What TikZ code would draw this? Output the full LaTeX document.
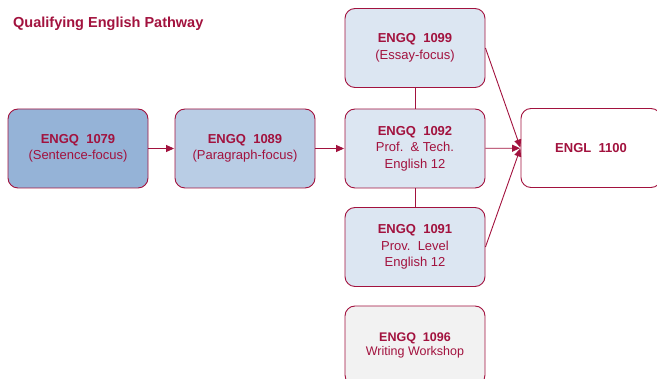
\documentclass[tikz,border=0pt]{standalone}
\usepackage{fontspec}
\setmainfont{Liberation Sans}
\usetikzlibrary{arrows.meta}
\definecolor{dred}{RGB}{162,18,62}
\definecolor{blueA}{RGB}{149,179,215}
\definecolor{blueB}{RGB}{185,205,229}
\definecolor{blueC}{RGB}{220,230,242}
\definecolor{greyF}{RGB}{242,242,242}
\tikzset{
  course/.style={draw=dred, line width=0.9pt, rounded corners=10pt, minimum width=140pt, minimum height=79pt, inner sep=0pt, text=dred, align=center, font=\fontsize{13}{16.5}\selectfont},
  link/.style={draw=dred, line width=0.9pt},
  arr/.style={link, -{Triangle[length=8pt,width=7pt]}, shorten >=0.5pt},
}
\begin{document}
\begin{tikzpicture}[x=1pt,y=-1pt]
\useasboundingbox (0,0) rectangle (657,379);
\clip (0,0) rectangle (657,379);
\node[anchor=base west, text=dred, font=\fontsize{14.5}{17}\selectfont\bfseries, inner sep=0pt] (title) at (13,27.5) {Qualifying English Pathway};
\node[course, fill=blueA] (c1079) at (78,148.5) {\textbf{ENGQ\ \ 1079}\\(Sentence-focus)};
\node[course, fill=blueB] (c1089) at (245,148.5) {\textbf{ENGQ\ \ 1089}\\(Paragraph-focus)};
\node[course, fill=blueC] (c1099) at (415,48) {\textbf{ENGQ\ \ 1099}\\(Essay-focus)};
\node[course, fill=blueC] (c1092) at (415,148.5) {\textbf{ENGQ\ \ 1092}\\Prof.\ \ \& Tech.\\English 12};
\node[course, fill=blueC] (c1091) at (415,247) {\textbf{ENGQ\ \ 1091}\\Prov.\ \ Level\\English 12};
\node[course, fill=greyF, font=\fontsize{12.5}{14.5}\selectfont] (c1096) at (415,345.5) {\textbf{ENGQ\ \ 1096}\\Writing Workshop};
\node[course, fill=white] (e1100) at (591,148) {\textbf{ENGL\ \ 1100}};
\draw[arr] (c1079) -- (c1089);
\draw[arr] (c1089) -- (c1092);
\draw[link] (c1099) -- (c1092);
\draw[link] (c1092) -- (c1091);
\draw[arr] (c1092) -- (e1100);
\draw[arr] (c1099.east) -- (e1100.west);
\draw[arr] (c1091.east) -- (e1100.west);
\end{tikzpicture}
\end{document}
